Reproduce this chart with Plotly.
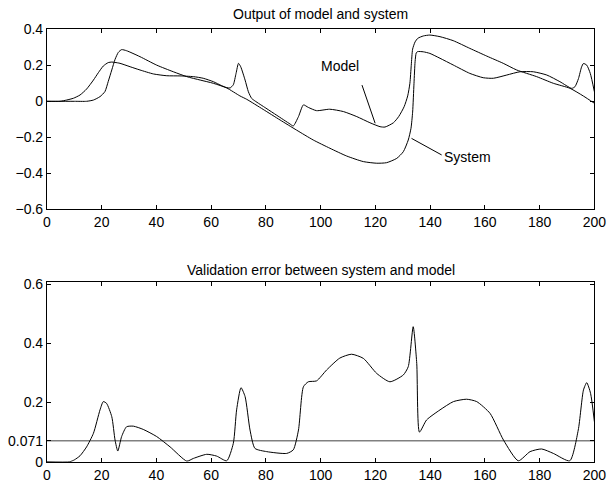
import plotly.graph_objects as go

# ---------------- data ----------------
model_x = [0, 4.8, 7.2, 9.7, 12.1, 14.5, 17, 18.8, 20.6, 22.4, 23.7, 24.9, 26.7, 30.4, 34, 38.9,
           43.8, 48.6, 53.5, 57.1, 60.8, 63.8, 65.7, 66.9, 68.1, 69.1, 70, 70.8, 72.4, 73.6, 74.8,
           76, 80, 84, 88.8, 90, 91.9, 93.7, 95.5, 98.5, 103.3, 108.3, 113.2, 118, 121.7, 123.5,
           126.6, 128.5, 130.5, 131.8, 132.6, 133.1, 133.6, 134.5, 135.5, 137.5, 139.9, 143.6,
           148.4, 154.5, 160.7, 166.7, 171.6, 178.9, 185, 191.1, 196, 200]
model_y = [0, 0.0, 0.007, 0.017, 0.035, 0.068, 0.118, 0.159, 0.196, 0.215, 0.218, 0.216, 0.211,
           0.192, 0.174, 0.152, 0.142, 0.141, 0.137, 0.128, 0.109, 0.087, 0.076, 0.074, 0.092,
           0.155, 0.211, 0.192, 0.118, 0.053, 0.016, 0.002, -0.038, -0.078, -0.126, -0.137,
           -0.085, -0.02, -0.034, -0.052, -0.044, -0.057, -0.085, -0.119, -0.141, -0.143,
           -0.119, -0.085, -0.03, 0.03, 0.1, 0.2, 0.29, 0.33, 0.35, 0.363, 0.368, 0.359, 0.337,
           0.294, 0.251, 0.211, 0.174, 0.137, 0.1, 0.072, 0.029, -0.011]

system_x = [0, 10, 14.5, 17, 19.4, 21.2, 22.4, 23.7, 24.9, 26.1, 27.3, 29.1, 34, 40.1, 46.2,
            51.1, 56, 60.8, 65.7, 70.5, 73, 79, 85.2, 91.2, 97.3, 103.4, 109.5, 115.6, 120.5,
            124.1, 127.8, 130.2, 132, 133, 133.6, 134.1, 134.5, 134.9, 135.4, 137.5, 139.9,
            143.6, 148.4, 154.5, 159.4, 163.1, 168, 172.8, 177.7, 182.6, 187.4, 191.7, 192.9,
            194.2, 195.3, 196, 197.2, 198.5, 200]
system_y = [0, 0, 0.0, 0.007, 0.026, 0.054, 0.11, 0.174, 0.233, 0.272, 0.287, 0.281, 0.248,
            0.201, 0.164, 0.137, 0.118, 0.1, 0.074, 0.03, 0.011, -0.045, -0.104, -0.16, -0.215,
            -0.261, -0.304, -0.335, -0.344, -0.341, -0.317, -0.28, -0.215, -0.15, -0.06, 0.1,
            0.22, 0.268, 0.276, 0.275, 0.266, 0.239, 0.202, 0.155, 0.131, 0.128, 0.146, 0.164,
            0.164, 0.146, 0.109, 0.072, 0.081, 0.127, 0.19, 0.21, 0.201, 0.155, 0.053]

error_x = [0, 8.4, 10, 12.1, 14.5, 17, 19.4, 20.6, 21.8, 23.7, 24.9, 25.9, 27.3, 29.1, 31.6,
           35.2, 40.1, 45, 51.1, 53.5, 58.4, 62, 65.7, 68.1, 69.3, 70.9, 72.4, 74.2, 76, 80.3,
           87.6, 90, 91.9, 93.7, 95.5, 98.5, 102.2, 107, 111.3, 115.6, 120.5, 125.3, 130.2, 132,
           133.8, 135.1, 136.1, 138.7, 143.6, 148.5, 153.3, 157, 161.9, 166.8, 172.2, 176.5,
           180.7, 185, 191, 194.1, 196, 197.2, 198.6, 200]
error_y = [0, 0.0, 0.006, 0.02, 0.05, 0.096, 0.175, 0.203, 0.197, 0.152, 0.073, 0.036, 0.085,
           0.118, 0.12, 0.109, 0.085, 0.05, 0.002, 0.011, 0.025, 0.019, 0.003, 0.062, 0.175,
           0.25, 0.22, 0.107, 0.045, 0.034, 0.028, 0.04, 0.107, 0.253, 0.27, 0.273, 0.31, 0.35,
           0.363, 0.349, 0.298, 0.27, 0.293, 0.321, 0.456, 0.332, 0.10, 0.141, 0.175, 0.203,
           0.211, 0.203, 0.163, 0.073, 0.003, 0.034, 0.043, 0.028, 0.003, 0.107, 0.242, 0.267,
           0.231, 0.135]

error_level = 0.071

x_ticks = [0, 20, 40, 60, 80, 100, 120, 140, 160, 180, 200]
top_y_ticks = [-0.6, -0.4, -0.2, 0, 0.2, 0.4]
top_y_labels = ["\u22120.6", "\u22120.4", "\u22120.2", "0", "0.2", "0.4"]
bot_y_ticks = [0, 0.071, 0.2, 0.4, 0.6]
bot_y_labels = ["0", "0.071", "0.2", "0.4", "0.6"]

title_top = "Output of model and system"
title_bot = "Validation error between system and model"

# ---------------- figure ----------------
FONT = "Liberation Sans, Arial, Helvetica, sans-serif"
W, H = 615, 481
fig = go.Figure()

line_style = dict(color="black", width=1, shape="spline", smoothing=0.6)
fig.add_trace(go.Scatter(x=model_x, y=model_y, mode="lines", line=line_style,
                         xaxis="x", yaxis="y", name="Model"))
fig.add_trace(go.Scatter(x=system_x, y=system_y, mode="lines", line=line_style,
                         xaxis="x", yaxis="y", name="System"))
fig.add_trace(go.Scatter(x=[x_ticks[0], x_ticks[-1]], y=[error_level, error_level], mode="lines",
                         line=dict(color="#808080", width=1.5), xaxis="x2", yaxis="y2"))
fig.add_trace(go.Scatter(x=error_x, y=error_y, mode="lines", line=line_style,
                         xaxis="x2", yaxis="y2", name="Error"))

xl, xr = 46.9 / W, 594.4 / W
top_dom = [(H - 209.3) / H, (H - 29.3) / H]
bot_dom = [(H - 461.7) / H, (H - 281.7) / H]

axis_common = dict(showline=True, linecolor="black", linewidth=1, mirror="allticks",
                   ticks="inside", ticklen=4, tickcolor="black", tickwidth=1,
                   showgrid=False, zeroline=False, automargin=False,
                   tickfont=dict(family=FONT, size=14, color="black"))

fig.update_layout(
    width=W, height=H, autosize=False,
    margin=dict(l=0, r=0, t=0, b=0, pad=0),
    paper_bgcolor="white", plot_bgcolor="white",
    showlegend=False,
    xaxis=dict(domain=[xl, xr], range=[0, 200], tickvals=x_ticks, anchor="y", **axis_common),
    yaxis=dict(domain=top_dom, range=[-0.6, 0.4], tickvals=top_y_ticks, ticktext=top_y_labels,
               anchor="x", **axis_common),
    xaxis2=dict(domain=[xl, xr], range=[0, 200], tickvals=x_ticks, anchor="y2", **axis_common),
    yaxis2=dict(domain=bot_dom, range=[0, 0.608], tickvals=bot_y_ticks, ticktext=bot_y_labels,
                anchor="x2", **axis_common),
    annotations=[
        dict(text=title_top, xref="paper", yref="paper", x=320.6 / W, y=(H - 14.5) / H,
             showarrow=False, xanchor="center", yanchor="middle",
             font=dict(family=FONT, size=14, color="black")),
        dict(text=title_bot, xref="paper", yref="paper", x=320.6 / W, y=(H - 269.5) / H,
             showarrow=False, xanchor="center", yanchor="middle",
             font=dict(family=FONT, size=14, color="black")),
        dict(text="Model", xref="x", yref="y", x=107.2, y=0.196, showarrow=False,
             xanchor="center", yanchor="middle", font=dict(family=FONT, size=14, color="black")),
        dict(text="System", xref="x", yref="y", x=153.5, y=-0.312, showarrow=False,
             xanchor="center", yanchor="middle", font=dict(family=FONT, size=14, color="black")),
    ],
    shapes=[
        dict(type="line", xref="x", yref="y", x0=115.1, y0=0.09, x1=119.9, y1=-0.122,
             line=dict(color="black", width=1)),
        dict(type="line", xref="x", yref="y", x0=133.2, y0=-0.206, x1=144.2, y1=-0.298,
             line=dict(color="black", width=1)),
    ],
)

fig.write_html(
    "out.html",
    config={"responsive": False, "displayModeBar": False},
    post_script="document.body.style.margin='0';document.body.style.padding='0';"
                "document.documentElement.style.overflow='hidden';",
)
